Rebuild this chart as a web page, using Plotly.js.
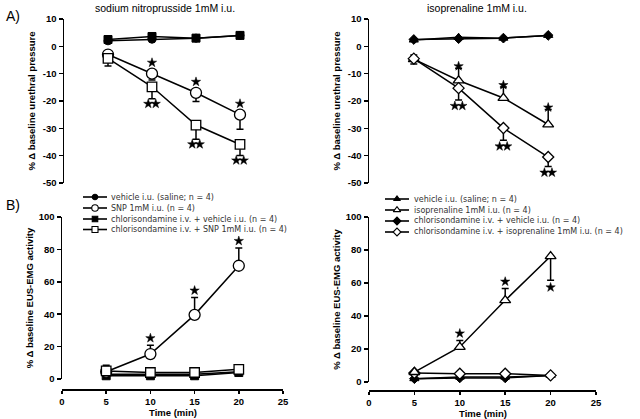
<!DOCTYPE html>
<html><head><meta charset="utf-8">
<script src="https://cdn.plot.ly/plotly-3.0.1.min.js"></script>
<style>html,body{margin:0;padding:0;background:#fff}#chart{width:640px;height:419px}</style>
</head><body><div id="chart"></div>
<script>
const W = 640, H = 419;
const time = [5, 10, 15, 20];

// A) urethral pressure - sodium nitroprusside
const upSnpVehicle = [2.0, 2.6, 3.0, 4.0];
const upSnp = [-3.0, -10.0, -17.0, -25.0];
const upSnpErr = [1.5, 2.3, 3.2, 5.3];
const upSnpChlorVehicle = [2.5, 3.6, 3.0, 4.0];
const upSnpChlorSnp = [-4.4, -14.8, -28.8, -35.9];
const upSnpChlorSnpErr = [2.8, 4.4, 5.2, 4.0];
const upSnpSig = [0, 1, 1, 1];
const upSnpChlorSig = [0, 2, 2, 2];

// A) urethral pressure - isoprenaline
const upIsoVehicle = [2.3, 3.3, 3.0, 4.0];
const upIso = [-4.7, -12.5, -18.9, -28.6];
const upIsoErr = [1.5, 4.5, 4.0, 5.5];
const upIsoChlorVehicle = [2.5, 2.8, 3.0, 4.0];
const upIsoChlorIso = [-4.5, -15.3, -29.9, -40.5];
const upIsoChlorIsoErr = [2.0, 4.3, 4.5, 3.5];
const upIsoSig = [0, 1, 1, 1];
const upIsoChlorSig = [0, 2, 2, 2];

// B) EUS-EMG activity - SNP
const emgSnpVehicle = [3.0, 3.0, 3.0, 4.5];
const emgSnp = [4.5, 15.4, 39.6, 69.9];
const emgSnpErr = [4.0, 5.5, 10.7, 11.0];
const emgSnpChlorVehicle = [2.0, 2.0, 2.0, 4.0];
const emgSnpChlorSnp = [5.0, 4.0, 4.0, 6.0];
const emgSnpSig = [0, 1, 1, 1];

// B) EUS-EMG activity - isoprenaline
const emgIsoVehicle = [2.0, 3.0, 3.0, 4.0];
const emgIso = [6.0, 21.2, 49.5, 76.2];
const emgIsoErrUp = [0, 4.0, 7.1, 0];
const emgIsoErrDown = [0, 0, 0, 14.6];
const emgIsoChlorVehicle = [2.0, 2.5, 2.5, 4.0];
const emgIsoChlorIso = [5.5, 5.0, 5.0, 4.0];
const emgIsoSig = [0, 1, 1, 1];

// ticks and labels
const upTicks = [10, 0, -10, -20, -30, -40, -50];
const emgTicks = [0, 20, 40, 60, 80, 100];
const timeTicks = [0, 5, 10, 15, 20, 25];
const legendSnp = ['vehicle i.u. (saline; n = 4)', 'SNP 1mM i.u. (n = 4)',
  'chlorisondamine i.v. + vehicle i.u. (n = 4)', 'chlorisondamine i.v. + SNP 1mM i.u. (n = 4)'];
const legendIso = ['vehicle i.u. (saline; n = 4)', 'isoprenaline 1mM i.u. (n = 4)',
  'chlorisondamine i.v. + vehicle i.u. (n = 4)', 'chlorisondamine i.v. + isoprenaline 1mM i.u. (n = 4)'];
const panelTitles = ['sodium nitroprusside 1mM i.u.', 'isoprenaline 1mM i.u.'];
const upTitle = '% \u0394 baseline urethral pressure';
const emgTitle = '% \u0394 baseline EUS-EMG activity';
const timeTitle = 'Time (min)';

// ---- layout geometry (pixels) ----
const px = x => x / W;
const py = y => 1 - y / H;
const BLACK = '#000';
const panels = {
  '':  {xpx: [64, 284], ypx: [183, 19], yr: [-50, 10]},
  '2': {xpx: [369, 593], ypx: [183, 19], yr: [-50, 10]},
  '3': {xpx: [62, 283], ypx: [379, 217], yr: [0, 100]},
  '4': {xpx: [369, 596], ypx: [382, 217], yr: [0, 100]}
};
const XR = [0, 25];

const mk = {
  fCircle: {symbol: 'circle', size: 8, color: BLACK, line: {color: BLACK, width: 1}},
  oCircle: {symbol: 'circle', size: 11, color: '#fff', line: {color: BLACK, width: 1.3}},
  fSquare: {symbol: 'square', size: 8, color: BLACK, line: {color: BLACK, width: 1}},
  oSquare: {symbol: 'square', size: 9.5, color: '#fff', line: {color: BLACK, width: 1.3}},
  fTri: {symbol: 'triangle-up', size: 8, color: BLACK, line: {color: BLACK, width: 1}},
  oTri: {symbol: 'triangle-up', size: 9.5, color: '#fff', line: {color: BLACK, width: 1.3}},
  fDia: {symbol: 'diamond', size: 7.5, color: BLACK, line: {color: BLACK, width: 1}},
  oDia: {symbol: 'diamond', size: 8.5, color: '#fff', line: {color: BLACK, width: 1.3}}
};
function series(ax, y, marker, errUp, errDown) {
  const t = {
    type: 'scatter', mode: 'lines+markers', x: time, y: y,
    xaxis: 'x' + ax, yaxis: 'y' + ax, cliponaxis: false, showlegend: false,
    line: {color: BLACK, width: 1.5}, marker: marker, hoverinfo: 'skip'
  };
  if (errUp || errDown) {
    t.error_y = {type: 'data', symmetric: false,
      array: errUp || time.map(() => 0), arrayminus: errDown || time.map(() => 0),
      color: BLACK, thickness: 1.5, width: 3.5};
  }
  return t;
}
const traces = [
  series('', upSnpVehicle, mk.fCircle),
  series('', upSnpChlorVehicle, mk.fSquare),
  series('', upSnp, mk.oCircle, null, upSnpErr),
  series('', upSnpChlorSnp, mk.oSquare, null, upSnpChlorSnpErr),
  series('2', upIsoVehicle, mk.fTri),
  series('2', upIsoChlorVehicle, mk.fDia),
  series('2', upIso, mk.oTri, upIsoErr, null),
  series('2', upIsoChlorIso, mk.oDia, null, upIsoChlorIsoErr),
  series('3', emgSnpVehicle, mk.fCircle),
  series('3', emgSnpChlorVehicle, mk.fSquare),
  series('3', emgSnp, mk.oCircle, emgSnpErr, null),
  series('3', emgSnpChlorSnp, mk.oSquare),
  series('4', emgIsoVehicle, mk.fTri),
  series('4', emgIsoChlorVehicle, mk.fDia),
  series('4', emgIsoChlorIso, mk.oDia),
  series('4', emgIso, mk.oTri, emgIsoErrUp, emgIsoErrDown)
];

// significance stars, placed from the data with pixel offsets converted through the axis scale
const starSets = {'': {x: [], y: []}, '2': {x: [], y: []}, '3': {x: [], y: []}, '4': {x: [], y: []}};
function addStars(ax, sig, yv, errUp, errDown, above, shiftPx) {
  const p = panels[ax];
  const yPerPx = (p.yr[1] - p.yr[0]) / (p.ypx[0] - p.ypx[1]);
  const xPerPx = (XR[1] - XR[0]) / (p.xpx[1] - p.xpx[0]);
  sig.forEach((n, i) => {
    if (!n) return;
    const up = Array.isArray(above) ? above[i] : above;
    const base = up ? yv[i] + (errUp ? errUp[i] : 0) : yv[i] - (errDown ? errDown[i] : 0);
    for (let k = 0; k < n; k++) {
      starSets[ax].x.push(time[i] + (k - (n - 1) / 2) * 7.5 * xPerPx);
      starSets[ax].y.push(base + (up ? shiftPx : -shiftPx) * yPerPx);
    }
  });
}
addStars('', upSnpSig, upSnp, null, null, true, 11);
addStars('', upSnpChlorSig, upSnpChlorSnp, null, upSnpChlorSnpErr, false, 5);
addStars('2', upIsoSig, upIso, upIsoErr, null, true, 2);
addStars('2', upIsoChlorSig, upIsoChlorIso, null, upIsoChlorIsoErr, false, 6);
addStars('3', emgSnpSig, emgSnp, emgSnpErr, null, true, 7);
addStars('4', emgIsoSig, emgIso, emgIsoErrUp, emgIsoErrDown, emgIsoErrUp.map(v => v > 0), 7);
Object.keys(starSets).forEach(ax => traces.push({
  type: 'scatter', mode: 'markers', x: starSets[ax].x, y: starSets[ax].y,
  xaxis: 'x' + ax, yaxis: 'y' + ax, cliponaxis: false, showlegend: false, hoverinfo: 'skip',
  marker: {symbol: 'star', size: 7, color: BLACK, line: {width: 0.5, color: BLACK}}
}));

// legend keys (drawn on an overlay axis measured in pixels)
const legendMarkersSnp = [
  Object.assign({}, mk.fCircle, {size: 5.5}), Object.assign({}, mk.oCircle, {size: 6.5}),
  Object.assign({}, mk.fSquare, {size: 5.5}), Object.assign({}, mk.oSquare, {size: 6})];
const legendMarkersIso = [
  Object.assign({}, mk.fTri, {size: 6}), Object.assign({}, mk.oTri, {size: 6.5}),
  Object.assign({}, mk.fDia, {size: 6}), Object.assign({}, mk.oDia, {size: 6})];
const legRowsSnp = [197, 208, 219, 229.5];
const legRowsIso = [199, 210, 221, 232];
function legendKey(x0, y, marker) {
  return {type: 'scatter', mode: 'lines+markers', x: [x0, x0 + 12, x0 + 24], y: [y, y, y],
    xaxis: 'x5', yaxis: 'y5', showlegend: false, hoverinfo: 'skip', cliponaxis: false,
    line: {color: BLACK, width: 1.6},
    marker: Object.assign({}, marker, {opacity: [0, 1, 0], line: {color: BLACK, width: 1.1}})};
}
legRowsSnp.forEach((r, i) => traces.push(legendKey(83, r, legendMarkersSnp[i])));
legRowsIso.forEach((r, i) => traces.push(legendKey(385, r, legendMarkersIso[i])));

const annotations = [];
const legFont = {family: 'DejaVu Sans', size: 8, color: '#333'};
legRowsSnp.forEach((r, i) => annotations.push({xref: 'paper', yref: 'paper', x: px(109), y: py(r),
  xanchor: 'left', yanchor: 'middle', text: legendSnp[i], showarrow: false, font: legFont}));
legRowsIso.forEach((r, i) => annotations.push({xref: 'paper', yref: 'paper', x: px(412), y: py(r),
  xanchor: 'left', yanchor: 'middle', text: legendIso[i], showarrow: false, font: legFont}));

// panel titles and letters
const titleFont = {family: 'Liberation Sans, Arial', size: 10.5, color: BLACK};
annotations.push({xref: 'paper', yref: 'paper', x: px(165), y: py(8), text: panelTitles[0],
  showarrow: false, xanchor: 'center', yanchor: 'middle', font: titleFont});
annotations.push({xref: 'paper', yref: 'paper', x: px(477), y: py(8), text: panelTitles[1],
  showarrow: false, xanchor: 'center', yanchor: 'middle', font: titleFont});
annotations.push({xref: 'paper', yref: 'paper', x: px(4), y: py(16), text: 'A)', showarrow: false,
  xanchor: 'left', yanchor: 'middle', font: {family: 'Liberation Sans, Arial', size: 14, color: BLACK}});
annotations.push({xref: 'paper', yref: 'paper', x: px(4), y: py(205), text: 'B)', showarrow: false,
  xanchor: 'left', yanchor: 'middle', font: {family: 'Liberation Sans, Arial', size: 14, color: BLACK}});

const tickFont = {family: 'Liberation Sans, Arial', size: 9.5, color: BLACK, weight: 'bold'};
const axTitleFont = {family: 'Liberation Sans, Arial', size: 9.5, color: BLACK, weight: 'bold'};
// x-axis titles below the time axes
annotations.push({xref: 'paper', yref: 'paper', x: (px(62) + px(283)) / 2, y: py(412.5), text: timeTitle,
  showarrow: false, xanchor: 'center', yanchor: 'middle', borderpad: 0, font: axTitleFont});
annotations.push({xref: 'paper', yref: 'paper', x: (px(369) + px(596)) / 2, y: py(413.5), text: timeTitle,
  showarrow: false, xanchor: 'center', yanchor: 'middle', borderpad: 0, font: axTitleFont});

const yBase = {showline: true, linecolor: BLACK, linewidth: 1.5, ticks: 'outside', ticklen: 4,
  tickwidth: 1.5, tickcolor: BLACK, showgrid: false, zeroline: false, tickfont: tickFont,
  tickmode: 'array', fixedrange: true};
const xBase = Object.assign({}, yBase, {tickvals: timeTicks, ticktext: timeTicks.map(String), range: XR,
  ticklen: 3});
const dom = (a, b) => [px(a), px(b)];
const vdom = (bottom, top) => [py(bottom), py(top)];

const layout = {
  width: W, height: H, margin: {l: 0, r: 0, t: 0, b: 0}, paper_bgcolor: '#fff', plot_bgcolor: 'rgba(0,0,0,0)',
  showlegend: false,
  xaxis: {domain: dom(...panels[''].xpx), range: XR, visible: false, anchor: 'y', fixedrange: true},
  yaxis: Object.assign({}, yBase, {domain: vdom(...panels[''].ypx), range: panels[''].yr, anchor: 'x',
    tickvals: upTicks, ticktext: upTicks.map(String), title: {text: upTitle, font: axTitleFont}}),
  xaxis2: {domain: dom(...panels['2'].xpx), range: XR, visible: false, anchor: 'y2', fixedrange: true},
  yaxis2: Object.assign({}, yBase, {domain: vdom(...panels['2'].ypx), range: panels['2'].yr, anchor: 'x2',
    tickvals: upTicks, ticktext: upTicks.map(String), title: {text: upTitle, font: axTitleFont}}),
  xaxis3: Object.assign({}, xBase, {domain: dom(...panels['3'].xpx), anchor: 'free', position: py(389)}),
  yaxis3: Object.assign({}, yBase, {domain: vdom(...panels['3'].ypx), range: panels['3'].yr, anchor: 'x3',
    tickvals: emgTicks, ticktext: emgTicks.map(String), title: {text: emgTitle, font: axTitleFont}}),
  xaxis4: Object.assign({}, xBase, {domain: dom(...panels['4'].xpx), anchor: 'free', position: py(390)}),
  yaxis4: Object.assign({}, yBase, {domain: vdom(...panels['4'].ypx), range: panels['4'].yr, anchor: 'x4',
    tickvals: emgTicks, ticktext: emgTicks.map(String), title: {text: emgTitle, font: axTitleFont}}),
  xaxis5: {domain: [0, 1], range: [0, W], visible: false, anchor: 'y5', fixedrange: true},
  yaxis5: {domain: [0, 1], range: [H, 0], visible: false, anchor: 'x5', fixedrange: true},
  annotations: annotations
};
Plotly.newPlot('chart', traces, layout, {staticPlot: true, displayModeBar: false});
</script></body></html>
